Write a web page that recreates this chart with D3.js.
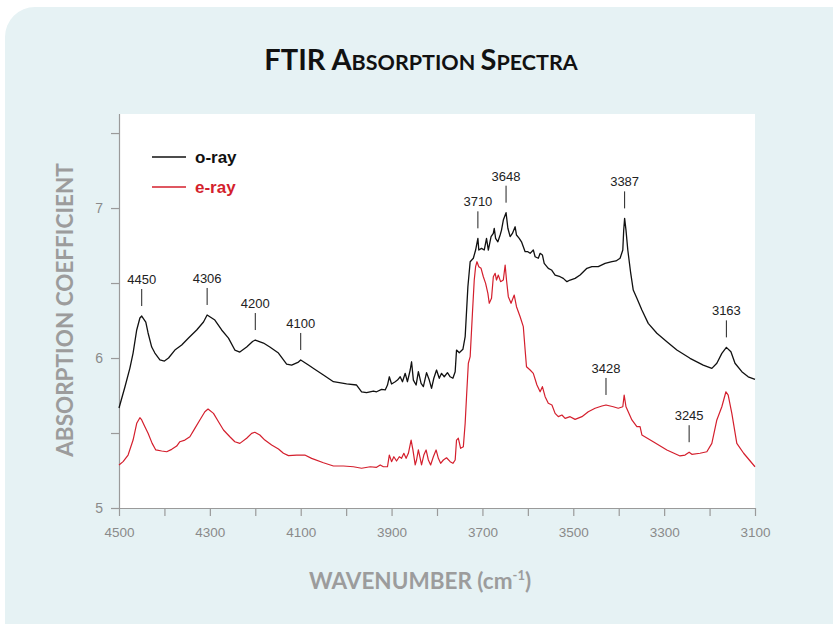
<!DOCTYPE html>
<html>
<head>
<meta charset="utf-8">
<script src="https://cdn.jsdelivr.net/npm/d3@7"></script>
<style>
  html, body { margin: 0; padding: 0; background: #ffffff; }
  svg { display: block; }
</style>
</head>
<body>
<svg id="chart" width="833" height="624"></svg>
<script>
// o-ray spectrum: wavenumber (cm-1) and absorption coefficient
const oRayWave = [4500,4487,4476,4469,4461,4454,4450,4441,4436,4428,4421,4410,4400,4391,4377,4362,4347,4329,4314,4306,4289,4274,4259,4245,4234,4219,4206,4200,4182,4168,4149,4131,4120,4105,4100,4083,4070,4050,4028,3999,3977,3966,3955,3940,3933,3922,3914,3909,3905,3900,3892,3887,3881,3876,3870,3865,3859,3856,3852,3846,3841,3835,3830,3823,3817,3812,3807,3801,3795,3790,3784,3777,3771,3765,3760,3757,3751,3743,3738,3732,3727,3720,3715,3710,3708,3702,3696,3691,3687,3681,3676,3674,3671,3666,3661,3658,3654,3648,3644,3639,3634,3628,3625,3619,3614,3606,3600,3595,3588,3584,3577,3573,3568,3564,3555,3548,3540,3529,3522,3514,3507,3496,3485,3470,3459,3445,3430,3415,3406,3397,3391,3389,3387,3384,3380,3374,3368,3360,3349,3335,3316,3294,3272,3243,3214,3195,3184,3173,3163,3153,3144,3129,3115,3100];
const oRayValue = [5.667,5.807,5.933,6.033,6.187,6.267,6.280,6.240,6.167,6.073,6.033,5.987,5.980,6.000,6.053,6.087,6.133,6.187,6.240,6.287,6.253,6.187,6.133,6.053,6.040,6.073,6.110,6.120,6.100,6.073,6.033,5.960,5.953,5.973,5.987,5.953,5.927,5.887,5.842,5.827,5.820,5.775,5.769,5.780,5.775,5.791,5.787,5.820,5.875,5.827,5.842,5.853,5.875,5.842,5.898,5.842,5.920,5.975,5.853,5.820,5.909,5.831,5.809,5.902,5.853,5.798,5.865,5.920,5.865,5.898,5.875,5.902,5.875,5.865,5.909,6.053,6.035,6.058,6.142,6.475,6.642,6.665,6.720,6.798,6.720,6.731,6.720,6.798,6.720,6.809,6.831,6.865,6.798,6.775,6.820,6.853,6.920,6.969,6.865,6.809,6.831,6.875,6.820,6.798,6.775,6.709,6.709,6.698,6.720,6.675,6.665,6.698,6.687,6.631,6.598,6.587,6.553,6.542,6.531,6.509,6.520,6.531,6.553,6.598,6.609,6.609,6.631,6.642,6.647,6.665,6.720,6.853,6.931,6.853,6.720,6.575,6.453,6.398,6.320,6.231,6.165,6.109,6.053,5.998,5.953,5.931,5.965,6.031,6.071,6.042,5.965,5.909,5.875,5.858];

// e-ray spectrum
const eRayWave = [4500,4491,4480,4469,4461,4454,4450,4443,4436,4427,4419,4406,4395,4384,4373,4366,4355,4344,4333,4322,4311,4304,4292,4281,4270,4256,4245,4234,4219,4208,4201,4190,4179,4164,4149,4138,4127,4109,4091,4076,4050,4028,4006,3984,3966,3947,3933,3925,3918,3909,3905,3900,3895,3889,3883,3878,3873,3868,3863,3857,3853,3848,3845,3841,3837,3834,3829,3824,3819,3814,3808,3802,3797,3792,3786,3779,3771,3765,3760,3757,3753,3748,3742,3738,3735,3731,3727,3722,3718,3715,3712,3708,3703,3698,3693,3688,3685,3680,3676,3672,3669,3665,3660,3654,3650,3647,3643,3637,3630,3625,3617,3610,3606,3603,3595,3588,3580,3573,3568,3562,3555,3547,3540,3533,3525,3518,3507,3496,3481,3467,3452,3437,3428,3412,3401,3391,3388,3384,3371,3360,3353,3349,3324,3294,3265,3254,3245,3239,3221,3206,3195,3184,3173,3164,3159,3151,3140,3125,3100];
const eRayValue = [5.287,5.309,5.353,5.453,5.565,5.602,5.587,5.542,5.498,5.431,5.387,5.380,5.375,5.391,5.413,5.442,5.453,5.475,5.531,5.587,5.642,5.660,5.631,5.575,5.520,5.475,5.442,5.431,5.465,5.498,5.505,5.487,5.453,5.420,5.393,5.365,5.349,5.353,5.353,5.331,5.302,5.280,5.280,5.275,5.265,5.275,5.271,5.287,5.275,5.275,5.353,5.309,5.342,5.313,5.342,5.331,5.365,5.331,5.365,5.453,5.387,5.287,5.320,5.387,5.331,5.287,5.353,5.387,5.320,5.287,5.342,5.387,5.331,5.298,5.320,5.335,5.309,5.298,5.320,5.453,5.465,5.398,5.409,5.565,5.742,5.965,6.009,6.298,6.520,6.609,6.642,6.609,6.598,6.542,6.498,6.431,6.365,6.398,6.542,6.565,6.520,6.553,6.509,6.520,6.620,6.520,6.409,6.365,6.420,6.342,6.275,6.209,6.053,5.942,5.920,5.898,5.820,5.775,5.809,5.742,5.698,5.687,5.631,5.609,5.620,5.598,5.609,5.591,5.609,5.642,5.665,5.680,5.687,5.675,5.665,5.675,5.753,5.675,5.587,5.542,5.542,5.487,5.442,5.387,5.347,5.353,5.372,5.358,5.365,5.375,5.431,5.587,5.675,5.775,5.753,5.631,5.431,5.365,5.275];

// peak annotations: wavenumber and the spectrum it belongs to
const peakWave   = [4450, 4306, 4200, 4100, 3710, 3648, 3387, 3163, 3428, 3245];
const peakSeries = ["o", "o", "o", "o", "o", "o", "o", "o", "e", "e"];

// axis ticks
const xTickValues = [4500,4400,4300,4200,4100,4000,3900,3800,3700,3600,3500,3400,3300,3200,3100];
const xTickLabels = [4500,4300,4100,3900,3700,3500,3300,3100];
const yTickValues = [5, 5.5, 6, 6.5, 7, 7.5];
const yTickLabels = [5, 6, 7];

const seriesNames = ["o-ray", "e-ray"];
const seriesColors = ["#111111", "#d41f2d"];

const svg = d3.select("#chart");

// card background
svg.append("rect")
  .attr("x", 5).attr("y", 7)
  .attr("width", 860).attr("height", 660)
  .attr("rx", 30).attr("ry", 30)
  .attr("fill", "#e6f2f4");

const plot = { left: 119, right: 755, top: 114, bottom: 508 };

svg.append("rect")
  .attr("x", plot.left).attr("y", plot.top)
  .attr("width", plot.right - plot.left).attr("height", plot.bottom - plot.top)
  .attr("fill", "#ffffff");

const x = d3.scaleLinear().domain([4500, 3100]).range([plot.left, plot.right]);
const y = d3.scaleLinear().domain([5, 7.627]).range([plot.bottom, plot.top]);

const axisColor = "#9a9a9a";
const tickTextColor = "#8a8a8a";

// x axis
const xAxis = svg.append("g")
  .attr("transform", `translate(0,${plot.bottom})`)
  .call(d3.axisBottom(x)
    .tickValues(xTickValues)
    .tickSize(8)
    .tickSizeOuter(0)
    .tickPadding(11)
    .tickFormat(d => xTickLabels.includes(d) ? d : ""));
xAxis.select(".domain").attr("stroke", axisColor).attr("stroke-width", 1.2);
xAxis.selectAll(".tick line").attr("stroke", axisColor).attr("stroke-width", 1.2);
xAxis.selectAll(".tick text")
  .attr("fill", tickTextColor)
  .style("font-family", "'Liberation Sans', Arial, sans-serif")
  .style("font-size", "13.5px");

// y axis
const yAxis = svg.append("g")
  .attr("transform", `translate(${plot.left},0)`)
  .call(d3.axisLeft(y)
    .tickValues(yTickValues)
    .tickSize(8)
    .tickSizeOuter(0)
    .tickPadding(8)
    .tickFormat(d => yTickLabels.includes(d) ? d : ""));
yAxis.select(".domain")
  .attr("d", `M0.5,${plot.top}V${plot.bottom}`)
  .attr("stroke", axisColor).attr("stroke-width", 1.2);
yAxis.selectAll(".tick line").attr("stroke", axisColor).attr("stroke-width", 1.2);
yAxis.selectAll(".tick text")
  .attr("fill", tickTextColor)
  .style("font-family", "'Liberation Sans', Arial, sans-serif")
  .style("font-size", "14px");

// spectra
const oRay = oRayWave.map((w, i) => ({ w, v: oRayValue[i] }));
const eRay = eRayWave.map((w, i) => ({ w, v: eRayValue[i] }));

const line = d3.line().x(d => x(d.w)).y(d => y(d.v)).curve(d3.curveLinear);

svg.append("path").datum(eRay)
  .attr("d", line)
  .attr("fill", "none")
  .attr("stroke", seriesColors[1])
  .attr("stroke-width", 1.2)
  .attr("stroke-linejoin", "round");

svg.append("path").datum(oRay)
  .attr("d", line)
  .attr("fill", "none")
  .attr("stroke", seriesColors[0])
  .attr("stroke-width", 1.3)
  .attr("stroke-linejoin", "round");

// peak markers: short tick above the curve with the wavenumber
function valueAt(data, w) {
  for (let i = 0; i < data.length - 1; i++) {
    const a = data[i], b = data[i + 1];
    if (w <= a.w && w >= b.w) {
      const t = (a.w - w) / (a.w - b.w);
      return a.v + t * (b.v - a.v);
    }
  }
  return data[data.length - 1].v;
}

const peaks = peakWave.map((w, i) => {
  const data = peakSeries[i] === "o" ? oRay : eRay;
  return { w, v: valueAt(data, w) };
});

const peakG = svg.append("g");
peaks.forEach(p => {
  const px = x(p.w), py = y(p.v);
  peakG.append("line")
    .attr("x1", px).attr("x2", px)
    .attr("y1", py - 10).attr("y2", py - 27)
    .attr("stroke", "#222").attr("stroke-width", 1);
  peakG.append("text")
    .attr("x", px).attr("y", py - 32)
    .attr("text-anchor", "middle")
    .attr("fill", "#222")
    .style("font-family", "'Liberation Sans', Arial, sans-serif")
    .style("font-size", "13px")
    .text(p.w);
});

// legend
const legend = svg.append("g");
seriesNames.forEach((name, i) => {
  const ly = 157 + i * 30;
  legend.append("line")
    .attr("x1", 152).attr("x2", 186)
    .attr("y1", ly).attr("y2", ly)
    .attr("stroke", seriesColors[i]).attr("stroke-width", 1.3);
  legend.append("text")
    .attr("x", 195).attr("y", ly + 6)
    .attr("fill", seriesColors[i])
    .style("font-family", "'Liberation Sans', Arial, sans-serif")
    .style("font-weight", "bold")
    .style("font-size", "17px")
    .text(name);
});

// title in small caps
const titleFont = "Lato, 'Open Sans', sans-serif";
const title = svg.append("text")
  .attr("x", 421).attr("y", 70)
  .attr("text-anchor", "middle")
  .attr("fill", "#111")
  .style("font-family", titleFont)
  .style("font-weight", "bold");
[["FTIR ", 29], ["A", 29], ["BSORPTION ", 21.5], ["S", 29], ["PECTRA", 21.5]].forEach(([t, s]) => {
  title.append("tspan").style("font-size", s + "px").text(t);
});

// axis titles
svg.append("text")
  .attr("transform", "translate(73,310) rotate(-90)")
  .attr("text-anchor", "middle")
  .attr("fill", "#9c9c9c")
  .style("font-family", titleFont)
  .style("font-weight", "bold")
  .style("font-size", "22.5px")
  .text("ABSORPTION COEFFICIENT");

const xTitle = svg.append("text")
  .attr("x", 420).attr("y", 589)
  .attr("text-anchor", "middle")
  .attr("fill", "#9c9c9c")
  .style("font-family", titleFont)
  .style("font-weight", "bold")
  .style("font-size", "22.5px");
xTitle.append("tspan").text("WAVENUMBER (cm");
xTitle.append("tspan").attr("dy", -9).style("font-size", "13px").text("-1");
xTitle.append("tspan").attr("dy", 9).text(")");
</script>
</body>
</html>
